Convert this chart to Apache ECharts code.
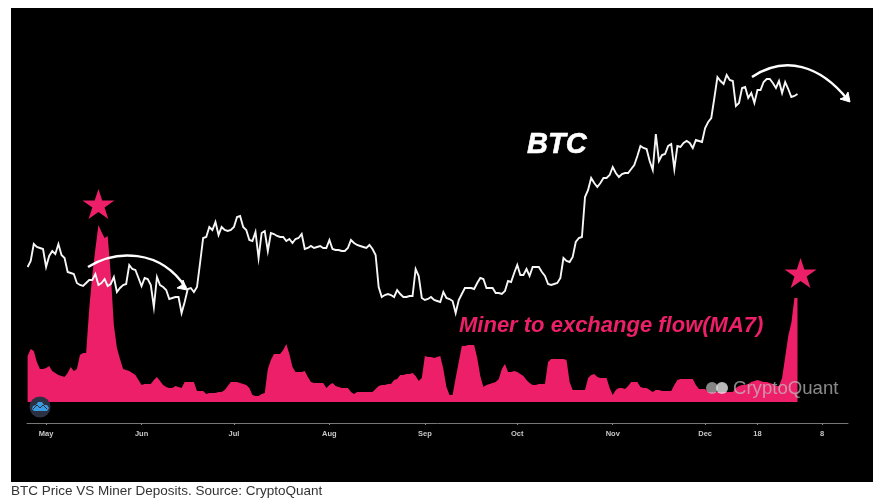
<!DOCTYPE html>
<html>
<head>
<meta charset="utf-8">
<style>html,body{margin:0;padding:0;background:#fff}#c{width:884px;height:501px}</style>
<script src="https://cdn.jsdelivr.net/npm/echarts@6/dist/echarts.min.js"></script>
</head>
<body>
<div id="c"></div>
<script>
// Days counted from 1 May; first reading is day -6.
const firstDay = -6;
// BTC line, one reading per day, in chart-height units (no value axis is printed in the reference)
const btcIndex = [
156,162,179,176,175,174,156,167,172,169,179,168,165,151,150,149,140,138,137,140,143,143,149,138,140,144,137,139,146,131,135,138,139,158,154,153,145,137,145,144,138,116,146,138,136,133,124,125,126,126,110,121,134,135,131,136,
160,185,186,196,193,201,188,196,193,192,193,196,206,207,196,193,183,182,191,165,190,192,172,190,189,187,186,186,182,184,180,184,185,189,174,175,177,175,176,177,175,175,183,174,173,173,172,172,175,183,180,178,177,176,175,178,174,168,
136,126,128,129,128,126,133,129,126,126,127,127,154,147,125,123,124,126,123,122,121,131,125,124,122,110,123,129,135,135,135,134,140,145,144,135,135,135,130,130,129,132,142,141,150,158,148,148,154,147,156,156,156,151,147,139,138,139,140,145,165,162,161,166,181,185,186,
226,233,245,240,236,240,245,245,248,256,250,246,249,250,250,254,258,267,277,275,274,262,253,289,262,268,269,277,279,254,277,276,280,282,280,275,283,282,281,295,301,305,325,346,342,339,348,343,342,317,320,335,336,325,330,320,333,333,341,344,344,340,335,342,330,341,334,326,327,329
];
// Miner to exchange flow (MA7), one reading per day, in chart-height units above the base line
const minerFlow = [
46,53,51,40,33,33,34,36,31,29,27,26,25,29,35,31,33,47,49,49,93,127,153,177,170,164,166,128,77,54,43,33,32,31,29,27,22,17,18,18,18,22,25,21,17,15,14,14,16,15,14,20,20,20,20,11,11,11,8,9,9,9,10,10,12,16,20,20,20,19,18,17,14,7,6,6,8,9,33,42,48,48,48,52,58,48,
35,30,30,30,31,25,20,19,19,19,19,14,17,19,16,15,14,14,14,10,8,10,10,10,10,10,10,13,16,17,17,18,18,22,23,27,27,28,28,29,26,21,24,46,45,45,44,45,46,33,15,7,7,24,40,56,56,57,57,57,44,26,15,17,18,19,20,23,33,38,30,30,31,30,28,26,22,19,17,17,18,18,18,40,43,43,43,43,43,42,20,12,12,12,12,12,
24,27,28,25,24,24,24,14,7,12,14,14,13,16,20,20,20,15,14,14,12,10,12,12,11,11,11,11,17,22,23,23,23,23,23,17,13,13,13,10,10,10,10,10,10,10,10,10,14,16,17,17,18,20,21,22,21,20,20,19,18,16,16,24,45,66,79,104,104
];
// Tick days from 1 May and their labels
const tickDays = [0,31,61,92,123,153,184,214,231,252];
const tickLabels = ['May','Jun','Jul','Aug','Sep','Oct','Nov','Dec','18','8'];
// Days on which the two stars sit, with the height of each star above the flow base line
const starDays = [17,245];
const starHeights = [198,129];

const pink = '#ec1f68';
const btcPoints = btcIndex.map((v,i)=>[firstDay+i,v]);
const flowPoints = minerFlow.map((v,i)=>[firstDay+i,v]);
const starPath = 'path://M50 0 L61.8 36.3 L100 36.3 L69.1 58.8 L80.9 95.1 L50 72.7 L19.1 95.1 L30.9 58.8 L0 36.3 L38.2 36.3 Z';

function arrow(curve, head){
  return [
    {type:'bezierCurve',z:20,shape:curve,style:{stroke:'#fff',lineWidth:2.5,fill:null}},
    {type:'polygon',z:20,shape:{points:head},style:{fill:'#fff',stroke:'#fff',lineWidth:1}}
  ];
}

const chart = echarts.init(document.getElementById('c'),null,{renderer:'canvas'});
chart.setOption({
  animation:false,
  backgroundColor:'#ffffff',
  textStyle:{fontFamily:'"Liberation Sans",Arial,sans-serif'},
  grid:{left:27,right:36,top:8,bottom:78},
  xAxis:{
    type:'value',min:-6.2,max:260.4,
    splitLine:{show:false},
    axisLine:{show:true,lineStyle:{color:'#777',width:1}},
    axisTick:{show:true,length:2,lineStyle:{color:'#888'},customValues:tickDays},
    axisLabel:{
      color:'#c8c8c8',fontSize:7.5,fontWeight:'bold',margin:7,
      customValues:tickDays,
      formatter:v=>tickLabels[tickDays.indexOf(v)]
    }
  },
  yAxis:[
    {type:'value',min:0,max:415,show:false},
    {type:'value',min:-21,max:394,show:false}
  ],
  series:[
    {
      name:'Miner to exchange flow(MA7)',type:'line',yAxisIndex:1,data:flowPoints,
      symbol:'none',z:3,lineStyle:{width:0},
      areaStyle:{color:pink,opacity:1,origin:0},
      markPoint:{
        silent:true,symbol:starPath,symbolSize:[32,30],symbolKeepAspect:false,
        itemStyle:{color:pink},label:{show:false},
        data:starDays.map((d,i)=>({coord:[d,starHeights[i]]}))
      }
    },
    {
      name:'BTC',type:'line',yAxisIndex:0,data:btcPoints,
      symbol:'none',z:4,lineStyle:{color:'#f6f6f6',width:1.9,join:'miter'}
    }
  ],
  graphic:[
    {type:'rect',z:-10,shape:{x:11,y:8,width:862,height:474},style:{fill:'#000'}},
    {type:'text',z:10,x:527,y:130,style:{text:'BTC',fill:'#fff',stroke:'#fff',lineWidth:0.6,font:'italic bold 29px "Liberation Sans",Arial,sans-serif'}},
    {type:'text',z:10,x:459,y:315,style:{text:'Miner to exchange flow(MA7)',fill:pink,font:'italic bold 22px "Liberation Sans",Arial,sans-serif'}},
    {type:'text',z:10,x:11,y:484,style:{text:'BTC Price VS Miner Deposits. Source: CryptoQuant',fill:'#333',font:'13.5px "Liberation Sans",Arial,sans-serif'}},
    // watermark
    {type:'circle',z:10,shape:{cx:712,cy:388,r:6},style:{fill:'rgba(190,190,190,0.7)'}},
    {type:'circle',z:10,shape:{cx:722,cy:388,r:6},style:{fill:'rgba(230,230,230,0.8)'}},
    {type:'text',z:10,x:733,y:379,style:{text:'CryptoQuant',fill:'rgba(195,195,195,0.7)',font:'18.6px "Liberation Sans",Arial,sans-serif'}},
    // logo
    {type:'circle',z:10,shape:{cx:40,cy:407,r:10.5},style:{fill:'#2b3142'}},
    {type:'polygon',z:11,shape:{points:[[32,409],[33,406],[36,405],[38,402],[42,402],[44,405],[47,405],[49,408],[47,411],[34,411]]},style:{fill:'#3a9be0'}},
    {type:'polyline',z:12,shape:{points:[[33,409],[37,405],[40,408],[43,405],[47,409]]},style:{stroke:'#2b3142',lineWidth:1,fill:null}},
    // arrows
    ...arrow({x1:88,y1:267,cpx1:115,cpy1:250,cpx2:160,cpy2:248,x2:186,y2:288},[[177,288],[187,290],[183,280],[182,285]]),
    ...arrow({x1:752,y1:77,cpx1:785,cpy1:55,cpx2:820,cpy2:65,x2:848,y2:100},[[840,99],[850,102],[848,92],[845,97]])
  ]
});
</script>
</body>
</html>
